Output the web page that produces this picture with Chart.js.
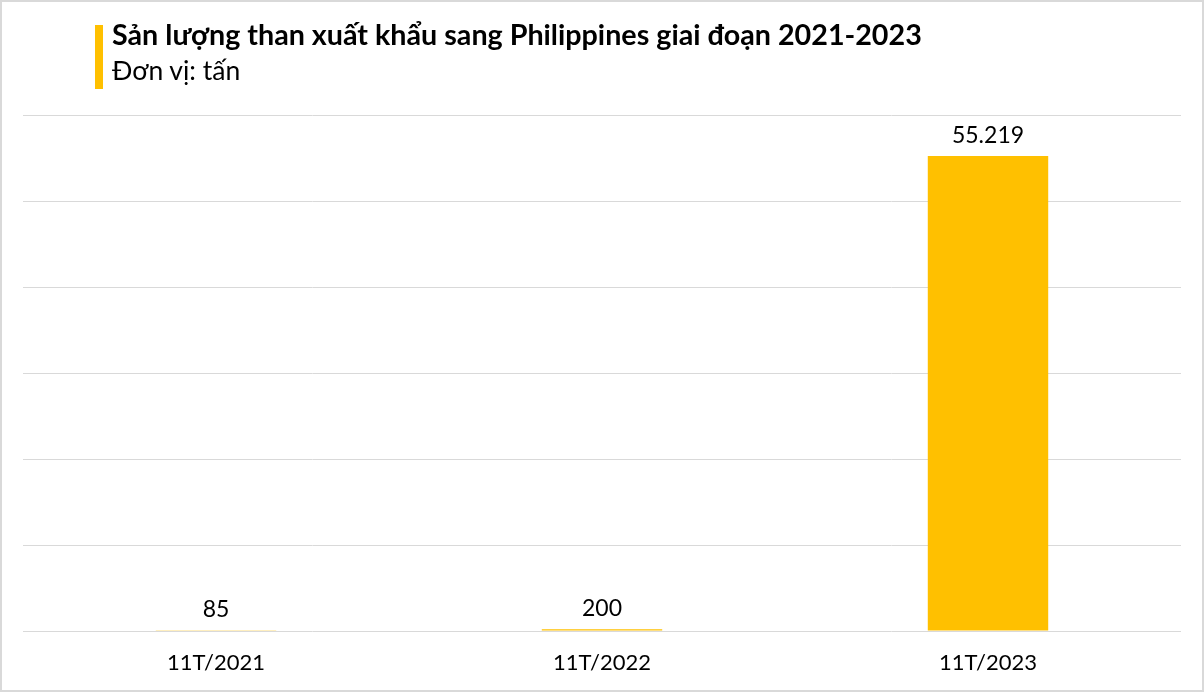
<!DOCTYPE html>
<html lang="vi">
<head>
<meta charset="utf-8">
<script src="https://cdn.jsdelivr.net/npm/chart.js@4.4.1/dist/chart.umd.min.js"></script>
<style>
    html, body { margin: 0; padding: 0; background: #fff; }
    #wrap { position: relative; width: 1204px; height: 692px; overflow: hidden; }
    #frame { position: absolute; left: 0; top: 0; width: 1204px; height: 692px; box-sizing: border-box; border: 2px solid #d9d9d9; pointer-events: none; }
    #accent { position: absolute; left: 95px; top: 25px; width: 8px; height: 64px; background: #FFC000; }
    #title { position: absolute; left: 112px; top: 17px; font-family: Lato, "Noto Sans", sans-serif; font-weight: bold; font-size: 28.7px; color: #000; white-space: nowrap; }
    #subtitle { position: absolute; left: 112px; top: 54px; font-family: Lato, "Noto Sans", sans-serif; font-size: 26.5px; color: #000; white-space: nowrap; }
    canvas { position: absolute; left: 0; top: 0; }
</style>
</head>
<body>
<div id="wrap">
    <canvas id="chart" width="1204" height="692"></canvas>
    <div id="accent"></div>
    <div id="title">Sản lượng than xuất khẩu sang Philippines giai đoạn 2021-2023</div>
    <div id="subtitle">Đơn vị: tấn</div>
    <div id="frame"></div>
</div>
<script>
const categories = ["11T/2021", "11T/2022", "11T/2023"];
const sanLuong = [85, 200, 55219];
const yMax = 60000;
const yStep = 10000;

const FONT = "Lato, 'Noto Sans', sans-serif";

// nhãn giá trị trên đầu cột, định dạng kiểu Việt Nam (55.219)
const valueLabels = {
    id: "valueLabels",
    afterDatasetsDraw(chart) {
        const ctx = chart.ctx;
        const meta = chart.getDatasetMeta(0);
        ctx.save();
        ctx.font = "23px " + FONT;
        ctx.fillStyle = "#000";
        ctx.textAlign = "center";
        ctx.textBaseline = "alphabetic";
        meta.data.forEach((bar, i) => {
            const txt = sanLuong[i].toLocaleString("de-DE");
            ctx.fillText(txt, bar.x, bar.y - 13);
        });
        ctx.restore();
    }
};

new Chart(document.getElementById("chart"), {
    type: "bar",
    data: {
        labels: categories,
        datasets: [{
            data: sanLuong,
            backgroundColor: "#FFC000",
            borderWidth: 0,
            categoryPercentage: 1,
            barPercentage: 0.312
        }]
    },
    options: {
        responsive: false,
        animation: false,
        layout: { padding: { left: 23, right: 23, top: 115, bottom: 0 } },
        plugins: {
            legend: { display: false },
            tooltip: { enabled: false },
            title: { display: false }
        },
        scales: {
            x: {
                grid: { display: false, drawTicks: false },
                border: { display: false },
                ticks: { color: "#000", font: { family: FONT, size: 22 }, padding: 19 },
                afterFit(scale) { scale.height = 61; }
            },
            y: {
                min: 0,
                max: yMax,
                ticks: { display: false, stepSize: yStep },
                grid: { color: "#d9d9d9", lineWidth: 1, drawTicks: false },
                border: { display: false },
                afterFit(scale) { scale.width = 0; }
            }
        }
    },
    plugins: [valueLabels]
});
</script>
</body>
</html>
